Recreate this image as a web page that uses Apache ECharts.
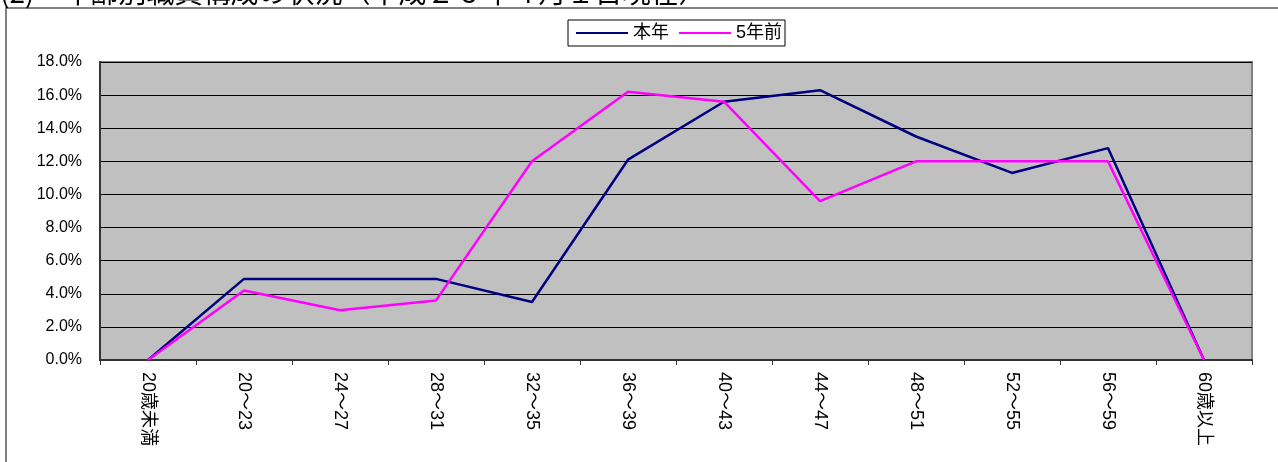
<!DOCTYPE html>
<html>
<head>
<meta charset="utf-8">
<script src="https://cdn.jsdelivr.net/npm/echarts@6/dist/echarts.min.js"></script>
<style>
  html, body { margin: 0; padding: 0; background: #ffffff; }
  #chart { width: 1278px; height: 462px; }
</style>
</head>
<body>
<div id="chart"></div>
<script>
const titleText = '(2)　年齢別職員構成の状況（平成２６年４月１日現在）';
const categories = ['20歳未満', '20～23', '24～27', '28～31', '32～35', '36～39', '40～43', '44～47', '48～51', '52～55', '56～59', '60歳以上'];
const seriesNames = ['本年', '5年前'];
const thisYear = [0, 4.9, 4.9, 4.9, 3.5, 12.1, 15.6, 16.3, 13.5, 11.3, 12.8, 0];
const fiveYearsAgo = [0, 4.2, 3.0, 3.6, 12.0, 16.2, 15.6, 9.6, 12.0, 12.0, 12.0, 0];
const yMin = 0, yMax = 18, yStep = 2;

const chart = echarts.init(document.getElementById('chart'), null, { renderer: 'canvas' });
const font = '"Liberation Sans", Arial, "Noto Sans CJK JP", sans-serif';
chart.setOption({
  animation: false,
  backgroundColor: '#ffffff',
  graphic: [
    { type: 'rect', z: -10, shape: { x: 6, y: 8, width: 1400, height: 600 },
      style: { fill: '#ffffff', stroke: '#808080', lineWidth: 2 } },
    { type: 'text', left: 0, top: -22, z: 10,
      style: { text: titleText, font: '28px "Noto Sans CJK JP", sans-serif', fill: '#000' } }
  ],
  legend: {
    left: 568, top: 20,
    data: seriesNames,
    icon: 'rect', itemWidth: 52, itemHeight: 2, itemGap: 10,
    padding: [4, 3, 4, 8],
    borderColor: '#000', borderWidth: 1, backgroundColor: '#ffffff',
    textStyle: { fontSize: 18, color: '#000', fontFamily: font }
  },
  grid: {
    left: 100, right: 26, top: 62, bottom: 102,
    show: true, backgroundColor: '#C0C0C0', borderColor: '#808080', borderWidth: 2
  },
  xAxis: {
    type: 'category', data: categories, boundaryGap: true,
    axisLine: { lineStyle: { color: '#333', width: 2 } },
    axisTick: { show: true, length: 5, alignWithLabel: false, lineStyle: { color: '#333' } },
    axisLabel: { rotate: -90, interval: 0, margin: 12, fontSize: 18, color: '#000', fontFamily: font }
  },
  yAxis: {
    type: 'value', min: yMin, max: yMax, interval: yStep,
    axisLine: { show: true, lineStyle: { color: '#333', width: 2 } },
    axisTick: { show: false },
    splitLine: { lineStyle: { color: '#000', width: 1 } },
    axisLabel: { formatter: v => v.toFixed(1) + '%', fontSize: 16, color: '#000', margin: 18, fontFamily: font }
  },
  series: [
    { name: seriesNames[0], type: 'line', data: thisYear, symbol: 'none',
      lineStyle: { color: '#000080', width: 2.5 }, itemStyle: { color: '#000080' } },
    { name: seriesNames[1], type: 'line', data: fiveYearsAgo, symbol: 'none',
      lineStyle: { color: '#FF00FF', width: 2.5 }, itemStyle: { color: '#FF00FF' } }
  ]
});
</script>
</body>
</html>
